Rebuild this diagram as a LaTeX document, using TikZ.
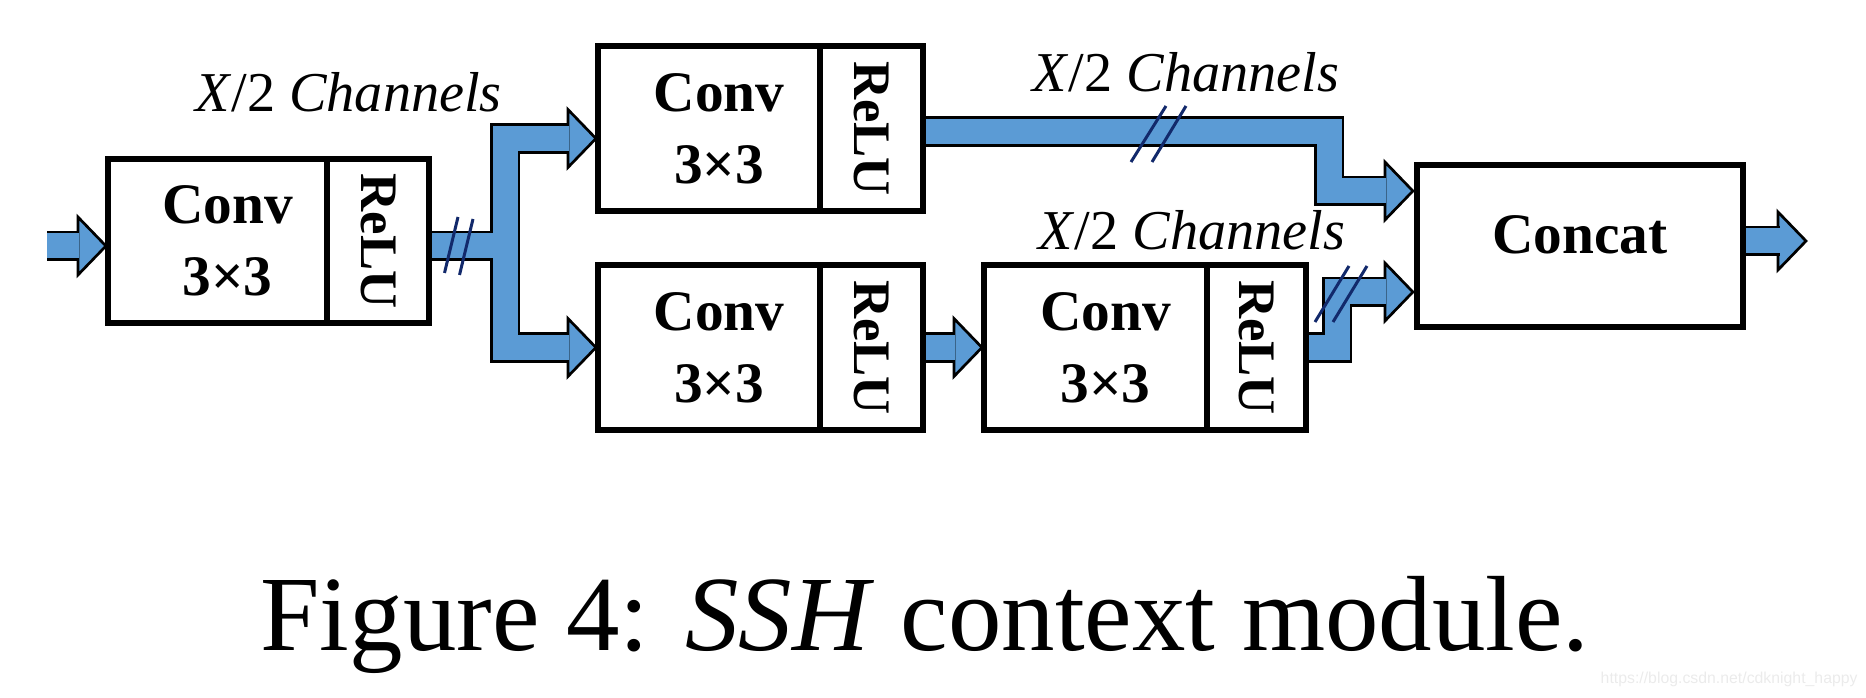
\documentclass[tikz,border=0pt]{standalone}
\usepackage{fontspec}
\setmainfont{Liberation Serif}
\newfontfamily\wmfont{Liberation Sans}
\usetikzlibrary{calc,positioning}
\definecolor{pipeblue}{HTML}{5B9BD5}
\definecolor{hashblue}{HTML}{12296B}
\definecolor{wmgray}{HTML}{EBEBEB}
\newcommand{\convtxt}{\hspace*{0.2cm}Conv\\\hspace*{0.2cm}3×3}
\tikzset{
    blk/.style={draw, line width=0.6mm, fill=white, outer sep=0pt, inner sep=0pt,
        minimum width=2.22cm, minimum height=1.64cm, align=center,
        font=\bfseries\fontsize{16.3}{20.4}\selectfont},
    rlu/.style={draw, line width=0.6mm, fill=white, outer sep=0pt, inner sep=0pt,
        minimum width=1.03cm, minimum height=1.64cm,
        font=\bfseries\fontsize{15}{18}\selectfont},
    pipe/.style={double=pipeblue, double distance=2.5mm, line width=0.27mm, line join=miter},
    hash/.style={draw=hashblue, line width=0.3mm},
    chan/.style={anchor=base, inner sep=0pt, font=\fontsize{16}{19}\selectfont},
    pics/head/.style={code={
        \filldraw[fill=pipeblue, draw=black, line width=0.27mm, line join=miter]
            (0,0) -- (-28,-29) -- (-28,29) -- cycle;}}
}

\begin{document}
\begin{tikzpicture}[x=0.01cm, y=-0.01cm]
    \useasboundingbox (0,0) rectangle (1866,698);

    % blocks
    \node[blk, minimum width=2.19cm] (b1) at (217.5,241) {\convtxt};
    \node[rlu, minimum width=1.02cm, right=0pt of b1] (r1) {\rotatebox{-90}{ReLU}};
    \node[blk] (b2) at (709,128.5) {\convtxt};
    \node[rlu, right=0pt of b2] (r2) {\rotatebox{-90}{ReLU}};
    \node[blk] (b3) at (709,347.5) {\convtxt};
    \node[rlu, right=0pt of b3] (r3) {\rotatebox{-90}{ReLU}};
    \node[blk, minimum width=2.23cm] (b4) at (1095.5,347.5) {\convtxt};
    \node[rlu, minimum width=0.99cm, right=0pt of b4] (r4) {\rotatebox{-90}{ReLU}};
    \node[blk, minimum width=3.26cm, minimum height=1.62cm, text depth=0.22cm] (cc) at (1580,246) {Concat};

    % input
    \coordinate (in) at (47,246);
    \pic at ([shift={(-2,5)}]b1.west) {head};
    \draw[pipe] (in) -- ([shift={(-28.5,5)}]b1.west);

    % split into two branches
    \coordinate (sp) at ([shift={(76,5)}]r1.east);
    \pic at ([shift={(-2,10)}]b2.west) {head};
    \pic at ([shift={(-2,0)}]b3.west) {head};
    \draw[pipe] ([shift={(3,5)}]r1.east) -- (sp)
        ([shift={(-28.5,10)}]b2.west) -| (sp) |- ([shift={(-28.5,0)}]b3.west);

    % upper branch to concat
    \pic at ([shift={(-4,-55)}]cc.west) {head};
    \draw[pipe] ([shift={(3,3)}]r2.east) -- ++(403,0) |- ([shift={(-30.5,-55)}]cc.west);

    % lower branch
    \pic at ([shift={(-2,0)}]b4.west) {head};
    \draw[pipe] ([shift={(3,0)}]r3.east) -- ([shift={(-28.5,0)}]b4.west);
    \pic at ([shift={(-4,46)}]cc.west) {head};
    \draw[pipe] ([shift={(3,0)}]r4.east) -- ++(28,0) |- ([shift={(-30.5,46)}]cc.west);

    % output
    \coordinate (out) at (1806,241);
    \pic at (out) {head};
    \draw[pipe] ([shift={(3,-5)}]cc.east) -- ([shift={(-26.5,0)}]out);

    % channel marks
    \foreach \x/\y/\dx in {458/217/-13.5, 473/219/-13.5, 1166/106/-35, 1186/106/-34, 1349/266/-34, 1367/266/-34}
        \draw[hash] (\x,\y) -- ++(\dx,56);

    \node[chan] (l1) at (348.5,111.7) {\textit{X}/2 \textit{Channels}};
    \node[chan] (l2) at (1186,91.7) {\textit{X}/2 \textit{Channels}};
    \node[chan] (l3) at (1192,249.3) {\textit{X}/2 \textit{Channels}};

    \node[anchor=base, inner sep=0pt, font=\fontsize{30.4}{36}\selectfont] (cap) at (925,651) {Figure 4: \textit{SSH} context module.};
    \node[anchor=base west, inner sep=0pt, text=wmgray, font=\wmfont\fontsize{4.5}{5}\selectfont] (wm) at (1600,684) {https://blog.csdn.net/cdknight\_happy};
\end{tikzpicture}
\end{document}
